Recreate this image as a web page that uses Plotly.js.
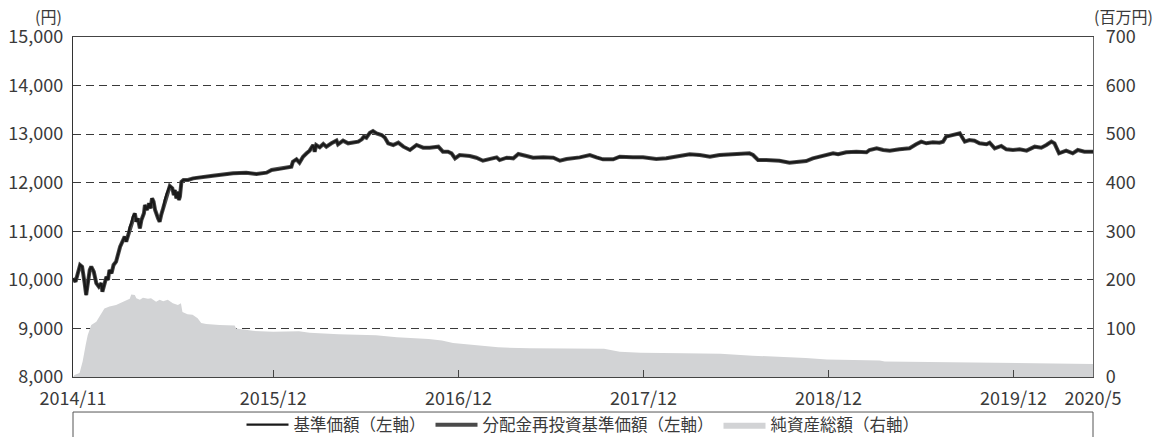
<!DOCTYPE html>
<html>
<head>
<meta charset="utf-8">
<script src="https://cdn.plot.ly/plotly-3.0.1.min.js"></script>
<style>
  html, body { margin: 0; padding: 0; background: #ffffff; }
  #chart { width: 1173px; height: 437px; }
</style>
</head>
<body>
<div id="chart"></div>
<script>
// ---- Data ----
const navDates = [
  '2014-11-01','2014-11-06','2014-11-15','2014-11-19','2014-11-24','2014-11-27',
  '2014-12-04','2014-12-07','2014-12-12','2014-12-17','2014-12-22','2014-12-27','2014-12-29',
  '2015-01-02','2015-01-06','2015-01-09','2015-01-12','2015-01-16','2015-01-20','2015-01-25','2015-01-29',
  '2015-02-02','2015-02-08','2015-02-11','2015-02-14','2015-02-18','2015-02-21','2015-02-24','2015-02-27',
  '2015-03-03','2015-03-06','2015-03-09','2015-03-13','2015-03-16','2015-03-21','2015-03-23','2015-03-27','2015-03-31',
  '2015-04-03','2015-04-06','2015-04-09','2015-04-12','2015-04-18','2015-04-21','2015-04-24','2015-04-28',
  '2015-05-01','2015-05-05','2015-05-11','2015-05-16','2015-05-19','2015-05-21','2015-05-24','2015-05-27','2015-05-29','2015-05-31',
  '2015-06-03','2015-06-07','2015-06-16','2015-06-26','2015-07-09','2015-08-04',
  '2015-09-13','2015-10-09','2015-10-29','2015-11-18','2015-11-28','2015-12-14','2015-12-31',
  '2016-01-06','2016-01-09','2016-01-16','2016-01-22','2016-01-29',
  '2016-02-05','2016-02-11','2016-02-18','2016-02-21','2016-02-24',
  '2016-03-02','2016-03-09','2016-03-15','2016-03-25',
  '2016-04-04','2016-04-07','2016-04-17','2016-04-27',
  '2016-05-07','2016-05-17','2016-05-24','2016-05-28',
  '2016-06-02','2016-06-09','2016-06-15','2016-06-22',
  '2016-07-02','2016-07-08','2016-07-15','2016-07-25',
  '2016-08-04','2016-08-14','2016-08-27','2016-09-09','2016-09-22',
  '2016-10-05','2016-10-22','2016-10-31','2016-11-10','2016-11-17','2016-11-24',
  '2016-12-03','2016-12-23','2017-01-05','2017-01-18','2017-01-31',
  '2017-02-14','2017-02-20','2017-03-06','2017-03-19','2017-03-29',
  '2017-04-14','2017-04-27','2017-05-17','2017-06-06','2017-06-19',
  '2017-07-02','2017-07-28','2017-08-17','2017-08-30','2017-09-12',
  '2017-10-02','2017-10-15','2017-11-10','2017-11-30','2017-12-26',
  '2018-01-15','2018-02-10','2018-03-02','2018-03-22','2018-04-11','2018-04-30',
  '2018-05-20','2018-06-09','2018-06-28','2018-07-05','2018-07-15','2018-07-31','2018-08-26',
  '2018-09-15','2018-10-05','2018-10-18','2018-10-31','2018-11-20','2018-12-10','2018-12-20',
  '2019-01-05','2019-01-25','2019-02-14','2019-02-20','2019-03-06','2019-03-19','2019-04-01','2019-04-20',
  '2019-05-10','2019-05-23','2019-06-02','2019-06-12','2019-06-25','2019-07-08','2019-07-15','2019-07-21',
  '2019-08-04','2019-08-17','2019-08-27','2019-09-05','2019-09-15','2019-09-25',
  '2019-10-09','2019-10-15','2019-10-25','2019-11-07','2019-11-17','2019-11-30',
  '2019-12-13','2019-12-27','2020-01-12','2020-01-25','2020-02-04','2020-02-14','2020-02-20','2020-02-29',
  '2020-03-14','2020-03-27','2020-04-06','2020-04-19','2020-05-06'
];
const navValues = [
  10030,9962,10306,10271,9930,9688,
  10203,10271,10168,9930,9860,9930,9756,
  9930,10065,9997,10203,10134,10306,10374,10547,
  10683,10820,10889,10786,10923,11094,11164,11300,
  11370,11197,11266,11061,11232,11370,11541,11438,11576,
  11473,11679,11610,11438,11266,11197,11335,11473,
  11644,11782,11932,11885,11747,11850,11679,11815,11644,11712,
  12021,12056,12056,12090,12111,12144,
  12193,12207,12179,12207,12262,12283,12317,
  12330,12433,12482,12413,12536,
  12605,12660,12776,12639,12776,
  12729,12797,12742,12811,
  12866,12791,12866,12811,
  12832,12845,12894,12948,
  12927,13030,13065,13017,
  12982,12935,12811,12776,
  12824,12742,12674,12776,12721,
  12721,12742,12639,12639,12605,12502,
  12570,12550,12515,12453,12482,
  12522,12467,12515,12502,12591,
  12550,12515,12522,12515,12453,
  12488,12522,12570,12522,12482,
  12482,12536,12522,12522,12488,
  12502,12550,12585,12570,12536,12570,
  12585,12591,12605,12570,12467,12467,12453,
  12412,12433,12447,12502,12550,12605,12585,
  12626,12639,12626,12674,12708,12674,12660,12687,
  12708,12791,12845,12811,12832,12824,12845,12948,
  12982,13017,12845,12879,12866,12811,
  12791,12824,12708,12756,12687,12674,
  12687,12660,12742,12721,12776,12845,12811,12605,
  12660,12605,12674,12639,12639
];
// No distributions were paid, so the reinvested NAV equals the NAV
const reinvestValues = navValues.slice();

const assetDates = [
  '2014-11-01','2014-11-04','2014-11-14','2014-11-20','2014-11-26','2014-11-30',
  '2014-12-07','2014-12-17','2014-12-23','2015-01-02','2015-01-12','2015-01-25',
  '2015-02-08','2015-02-21','2015-02-24','2015-03-03','2015-03-06','2015-03-13','2015-03-19','2015-03-29',
  '2015-04-04','2015-04-14','2015-04-21','2015-04-28','2015-05-07','2015-05-17','2015-05-27',
  '2015-06-02','2015-06-05','2015-06-15','2015-06-25','2015-07-05','2015-07-12','2015-07-22',
  '2015-08-17','2015-09-16','2015-09-19','2015-10-22','2015-12-01',
  '2016-01-21','2016-02-11','2016-04-08','2016-06-21','2016-08-01','2016-10-03','2016-10-29','2016-11-20','2016-12-26',
  '2017-02-17','2017-04-20','2017-07-03','2017-09-14','2017-10-15','2017-11-25',
  '2018-02-18','2018-05-02','2018-07-04','2018-08-23','2018-10-17','2018-11-28',
  '2019-03-12','2019-03-22','2019-06-25','2019-10-07','2020-01-20','2020-04-02','2020-05-06'
];
const assetValues = [
  0,4,8,32,66,86,
  107,114,124,141,145,148,
  155,161,170,169,162,159,163,161,
  162,155,159,156,159,152,148,
  152,134,129,128,121,111,109,
  107,106,100,95,93,
  94,91,88,86,82,78,75,70,66,
  61,59,58,58,52,50,
  49,48,44,42,39,36,
  34,32,31,30,29,28,27
];

const xTickVals = ['2014-11-01','2015-12-01','2016-12-01','2017-12-01','2018-12-01','2019-12-01','2020-05-06'];
const xTickText = ['2014/11','2015/12','2016/12','2017/12','2018/12','2019/12','2020/5'];
const xRange = ['2014-11-01','2020-05-06'];

const seriesNames = ['基準価額（左軸）','分配金再投資基準価額（左軸）','純資産総額（右軸）'];
const leftUnit = '(円)';
const rightUnit = '(百万円)';

// ---- Chart ----
const FONT = 'Noto Sans CJK JP, Noto Sans, sans-serif';
const TXT = '#3a3a3a';

const traces = [
  {
    x: assetDates, y: assetValues, name: seriesNames[2], type: 'scatter', mode: 'lines',
    yaxis: 'y', fill: 'tozeroy', fillcolor: '#d2d3d5',
    line: { color: '#d2d3d5', width: 0 }, legendrank: 3, hoverinfo: 'skip'
  },
  {
    x: navDates, y: reinvestValues, name: seriesNames[1], type: 'scatter', mode: 'lines',
    yaxis: 'y2', line: { color: '#4a4a4a', width: 4 }, legendrank: 2
  },
  {
    x: navDates, y: navValues, name: seriesNames[0], type: 'scatter', mode: 'lines',
    yaxis: 'y2', line: { color: '#1a1a1a', width: 2.2 }, legendrank: 1
  }
];

const layout = {
  width: 1173, height: 437,
  margin: { l: 73, r: 80, t: 37, b: 60, pad: 0, autoexpand: false },
  paper_bgcolor: '#ffffff', plot_bgcolor: '#ffffff',
  font: { family: FONT, color: TXT, size: 18 },
  showlegend: true,
  legend: {
    orientation: 'h', x: 0.5, xanchor: 'center', y: -0.141, yanchor: 'middle',
    font: { family: FONT, size: 16.5, color: TXT }, bgcolor: 'rgba(0,0,0,0)',
    traceorder: 'normal', itemwidth: 42
  },
  xaxis: {
    type: 'date', range: xRange, tickvals: xTickVals, ticktext: xTickText,
    ticks: 'inside', ticklen: 7, tickcolor: '#444', tickwidth: 1,
    showline: true, linecolor: '#444', linewidth: 1.2, mirror: true,
    showgrid: false, zeroline: false, automargin: false, ticklabelstandoff: 5,
    tickfont: { family: FONT, size: 18, color: TXT }
  },
  yaxis: {
    side: 'right', range: [0, 700], dtick: 100, tick0: 0,
    showline: true, linecolor: '#666', linewidth: 1.2, automargin: false,
    showgrid: true, gridcolor: '#3a3a3a', gridwidth: 1, griddash: '8px,5px',
    zeroline: false, ticks: '', ticklabelstandoff: 8,
    tickfont: { family: FONT, size: 18, color: TXT }
  },
  yaxis2: {
    side: 'left', overlaying: 'y', range: [8000, 15000], dtick: 1000, tick0: 8000,
    tickformat: ',d', showline: true, linecolor: '#333', linewidth: 1.2, automargin: false,
    showgrid: false, zeroline: false, ticks: '', ticklabelstandoff: 5,
    tickfont: { family: FONT, size: 18, color: TXT }
  },
  shapes: [
    { type: 'rect', xref: 'paper', yref: 'paper', x0: 0, x1: 1, y0: -0.103, y1: -0.3,
      line: { color: '#555', width: 1 }, fillcolor: 'rgba(0,0,0,0)', layer: 'below' }
  ],
  annotations: [
    { text: leftUnit, xref: 'paper', yref: 'paper', x: -0.024, y: 1.062, xanchor: 'center', yanchor: 'middle',
      showarrow: false, font: { family: FONT, size: 16, color: TXT } },
    { text: rightUnit, xref: 'paper', yref: 'paper', x: 0.999, y: 1.062, xanchor: 'left', yanchor: 'middle',
      showarrow: false, font: { family: FONT, size: 16, color: TXT } }
  ]
};

Plotly.newPlot('chart', traces, layout, { staticPlot: true, displayModeBar: false });
</script>
</body>
</html>
